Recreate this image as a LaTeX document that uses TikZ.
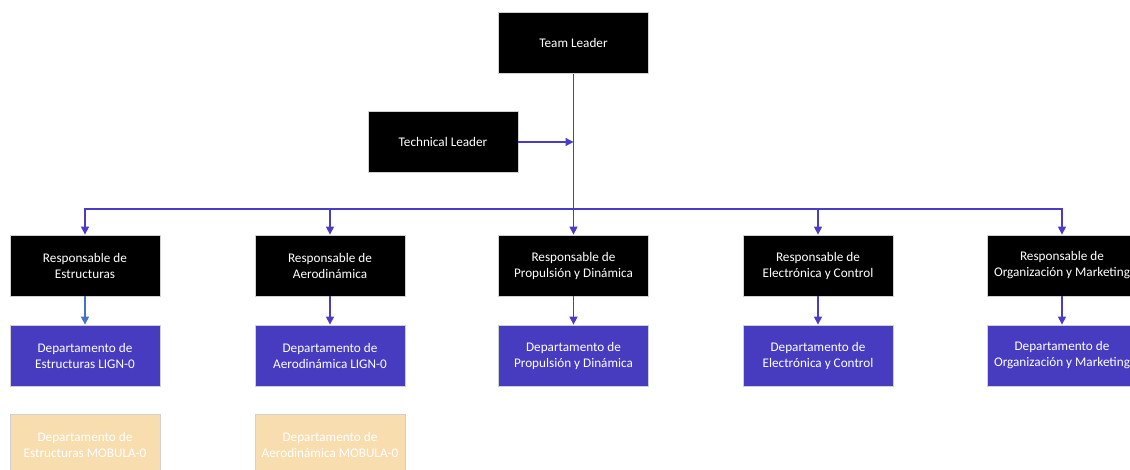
\documentclass[tikz,border=0pt]{standalone}
\usepackage{fontspec}
\setmainfont{Carlito}
\usetikzlibrary{arrows.meta}
\definecolor{lnpurple}{HTML}{4B3CC8}
\definecolor{lnblue}{HTML}{4472C4}
\definecolor{deptfill}{HTML}{473BBF}
\definecolor{mobfill}{HTML}{F8DDAF}
\definecolor{edge}{HTML}{D0D0D0}
\tikzset{
  box/.style={rectangle, draw=edge, line width=0.8pt, minimum width=150pt, minimum height=61pt,
    align=center, text=white, font=\fontsize{13.2}{16}\selectfont, inner sep=0pt},
  lead/.style={box, fill=black},
  dept/.style={box, fill=deptfill},
  mob/.style={box, fill=mobfill},
  conn/.style={draw=lnpurple, line width=1.3pt, -{Triangle[width=8pt,length=8pt]}},
  connb/.style={draw=lnblue, line width=1.3pt, -{Triangle[width=8pt,length=8pt]}}
}
\begin{document}
\begin{tikzpicture}[x=1pt,y=-1pt]
\useasboundingbox (0,0) rectangle (1130,470);
\clip (0,0) rectangle (1130,470);
\node[lead] (tl) at (573.5,43) {Team Leader};
\node[lead] (tech) at (443,142) {Technical Leader};
\node[lead] (r1) at (85,265.5) {Responsable de\\Estructuras};
\node[lead] (r2) at (330,265.5) {Responsable de\\Aerodinámica};
\node[lead] (r3) at (573.5,265.5) {Responsable de\\Propulsión y Dinámica};
\node[lead] (r4) at (818,265.5) {Responsable de\\Electrónica y Control};
\node[lead] (r5) at (1062,265.5) {Responsable de\\Organización y Marketing};
\node[dept] (d1) at (85,355.5) {Departamento de\\Estructuras LIGN-0};
\node[dept] (d2) at (330,355.5) {Departamento de\\Aerodinámica LIGN-0};
\node[dept] (d3) at (573.5,355.5) {Departamento de\\Propulsión y Dinámica};
\node[dept] (d4) at (818,355.5) {Departamento de\\Electrónica y Control};
\node[dept] (d5) at (1062,355.5) {Departamento de\\Organización y Marketing};
\node[mob] (m1) at (85,444.5) {Departamento de\\Estructuras MOBULA-0};
\node[mob] (m2) at (330,444.5) {Departamento de\\Aerodinámica MOBULA-0};
\coordinate (busc) at (573.5,209);
\draw[conn] (tl.south) -- (r3.north);
\draw[conn] (tech.east) -- (tech.east -| tl.south);
\draw[conn] (busc) -| (r1.north);
\draw[conn] (busc) -| (r2.north);
\draw[conn] (busc) -| (r4.north);
\draw[conn] (busc) -| (r5.north);
\draw[connb] (r1) -- (d1);
\draw[conn] (r2) -- (d2);
\draw[conn] (r3) -- (d3);
\draw[conn] (r4) -- (d4);
\draw[conn] (r5) -- (d5);
\end{tikzpicture}
\end{document}
